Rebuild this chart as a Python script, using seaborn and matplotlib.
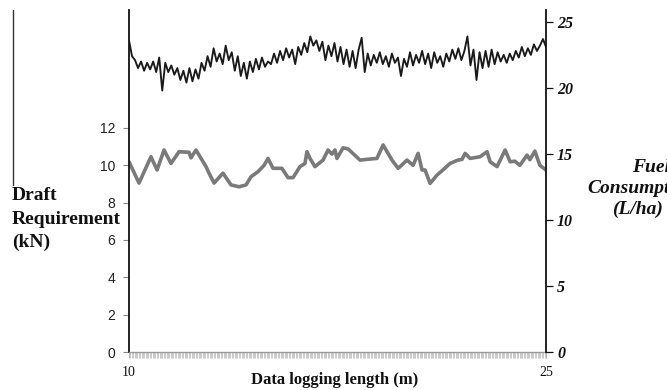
import numpy as np
import pandas as pd
import matplotlib
matplotlib.use("Agg")
import matplotlib.pyplot as plt
from matplotlib.ticker import MultipleLocator, FixedLocator
from matplotlib.lines import Line2D
import seaborn as sns

# Draft requirement (kN) sampled along the logging distance (m)
draft_dist = [10.00, 10.36, 10.79, 11.01, 11.26, 11.51, 11.80, 12.16, 12.23, 12.41,
              12.77, 12.88, 13.06, 13.38, 13.67, 13.96, 14.21, 14.39, 14.64, 14.86,
              15.00, 15.18, 15.50, 15.72, 15.90, 16.15, 16.33, 16.40, 16.51, 16.69,
              16.98, 17.16, 17.30, 17.41, 17.48, 17.70, 17.88, 18.31, 18.56, 18.92,
              19.14, 19.46, 19.68, 19.75, 20.00, 20.22, 20.40, 20.54, 20.65, 20.83,
              21.08, 21.29, 21.55, 21.83, 21.98, 22.09, 22.27, 22.63, 22.88, 22.99,
              23.24, 23.53, 23.71, 23.88, 24.06, 24.32, 24.42, 24.60, 24.78, 25.00]
draft_kn = [10.19, 9.05, 10.46, 9.75, 10.82, 10.10, 10.73, 10.70, 10.40, 10.82,
            9.93, 9.58, 9.05, 9.58, 8.95, 8.85, 8.95, 9.39, 9.66, 10.00,
            10.37, 9.84, 9.84, 9.34, 9.34, 9.93, 10.10, 10.73, 10.37, 9.93,
            10.28, 10.82, 10.60, 10.82, 10.37, 10.94, 10.88, 10.28, 10.32, 10.37,
            11.09, 10.28, 9.84, 9.93, 10.28, 10.00, 10.64, 9.75, 9.75, 9.03,
            9.48, 9.75, 10.10, 10.28, 10.32, 10.64, 10.37, 10.46, 10.73, 10.19,
            9.93, 10.82, 10.19, 10.22, 10.00, 10.55, 10.30, 10.76, 10.00, 9.75]

# Fuel consumption (L/ha), evenly logged from 10 m to 25 m
fuel_lha = [23.6, 22.4, 22.1, 21.5, 22.0, 21.3, 21.9, 21.4, 22.0, 21.2,
            22.3, 19.8, 21.9, 21.2, 21.7, 21.0, 21.5, 20.6, 21.3, 20.4,
            21.5, 20.5, 21.4, 20.7, 21.9, 21.3, 22.4, 21.6, 23.0, 22.0,
            22.6, 21.8, 23.2, 22.1, 22.7, 21.3, 22.4, 20.9, 21.9, 20.7,
            22.0, 21.2, 22.2, 21.4, 22.3, 21.6, 22.0, 21.8, 22.6, 21.9,
            22.8, 22.1, 23.0, 22.3, 22.9, 21.8, 23.1, 22.5, 23.4, 22.7,
            23.9, 23.2, 23.6, 22.8, 23.5, 22.1, 23.2, 22.4, 23.4, 22.0,
            23.1, 21.8, 22.9, 21.6, 22.8, 21.5, 22.9, 23.8, 21.2, 22.6,
            21.7, 22.5, 21.9, 22.7, 21.8, 22.4, 21.6, 22.6, 21.9, 22.3,
            20.9, 22.2, 21.6, 22.7, 21.7, 22.5, 21.9, 22.8, 21.8, 22.6,
            21.5, 22.7, 21.9, 22.4, 21.6, 22.6, 22.0, 22.9, 22.2, 23.0,
            22.1, 22.8, 23.9, 21.7, 22.9, 20.6, 22.7, 21.5, 22.8, 21.6,
            22.9, 21.8, 22.7, 22.0, 22.5, 21.9, 22.6, 22.1, 22.8, 22.3,
            23.1, 22.4, 23.0, 22.5, 23.3, 22.8, 23.2, 23.7, 23.1]
fuel_dist = np.linspace(10, 25, len(fuel_lha))

left_ticks = [0, 2, 4, 6, 8, 10, 12]
right_ticks = [0, 5, 10, 15, 20, 25]
x_ticks = [10, 25]
left_title = ["Draft", "Requirement", "(kN)"]
right_title = ["Fuel", "Consumption", "(L/ha)"]

sns.set_theme(style="white")
plt.rcParams["font.family"] = ["Liberation Serif", "DejaVu Serif"]

draft_df = pd.DataFrame({"dist": draft_dist, "draft": draft_kn})
fuel_df = pd.DataFrame({"dist": fuel_dist, "fuel": fuel_lha})

fig = plt.figure(figsize=(6.67, 3.90), dpi=100)
ax = fig.add_axes([129 / 667, 38 / 390, 417 / 667, 342 / 390])
ax2 = ax.twinx()

sns.lineplot(data=draft_df, x="dist", y="draft", ax=ax, color="#7a7a7a",
             linewidth=2.6, legend=False)
sns.lineplot(data=fuel_df, x="dist", y="fuel", ax=ax2, color="#1a1a1a",
             linewidth=1.35, legend=False)

ax.set_xlim(10, 25)
ax.set_ylim(0, 18.32)
ax2.set_ylim(0, 25.9)
ax.set_xlabel("")
ax.set_ylabel("")
ax2.set_ylabel("")

for a in (ax, ax2):
    a.spines["top"].set_visible(False)
    a.grid(False)
ax.spines["right"].set_visible(False)
ax2.spines["left"].set_visible(False)
ax2.spines["bottom"].set_visible(False)
ax.spines["left"].set_color("#111111")
ax.spines["left"].set_linewidth(1.3)
ax2.spines["right"].set_color("#111111")
ax2.spines["right"].set_linewidth(1.3)
ax.spines["bottom"].set_color("#9a9a9a")
ax.spines["bottom"].set_linewidth(1.0)

# left axis: sans-serif numbers
ax.yaxis.set_major_locator(FixedLocator(left_ticks))
ax.tick_params(axis="y", which="major", left=True, length=4, width=0.8,
               color="#888888", pad=6, labelsize=10, labelcolor="#222222")
for t in ax.get_yticklabels():
    t.set_family(["Liberation Sans", "DejaVu Sans"])

# right axis: bold italic serif numbers
ax2.yaxis.set_major_locator(FixedLocator(right_ticks))
ax2.tick_params(axis="y", which="major", right=True, length=5, width=0.9,
                color="#111111", pad=3, labelsize=11.5, labelcolor="#111111")
for t in ax2.get_yticklabels():
    t.set_fontweight("bold")
    t.set_fontstyle("italic")

# bottom axis: dense grey hatch of minor ticks
ax.xaxis.set_major_locator(FixedLocator(x_ticks))
ax.xaxis.set_minor_locator(MultipleLocator(0.05))
ax.tick_params(axis="x", which="major", bottom=True, length=4, width=0.6,
               color="#a0a0a0", pad=6, labelsize=10, labelcolor="#111111")
ax.tick_params(axis="x", which="minor", bottom=True, length=4, width=0.5,
               color="#b4b4b4")

fig.text(335 / 667, 1 - 380 / 390, "Data logging length (m)", ha="center",
         va="center", fontsize=12, fontweight="bold", color="#111111")

# left title, one line per text
for i, line in enumerate(left_title):
    fig.text(12 / 667, 1 - (196 + 23 * i) / 390, line, ha="left",
             va="center", fontsize=14, fontweight="bold", color="#111111")

# right title, lines running past the figure edge
right_title_x = [632, 587, 612]
for i, line in enumerate(right_title):
    fig.text(right_title_x[i] / 667, 1 - (167 + 21 * i) / 390, line, ha="left",
             va="center", fontsize=14, fontweight="bold", style="italic",
             color="#111111")

fig.add_artist(Line2D([13 / 667, 13 / 667], [1 - 10 / 390, 1 - 185 / 390],
                      transform=fig.transFigure, color="#333333", linewidth=1.0))

fig.savefig("out.png", dpi=100)
